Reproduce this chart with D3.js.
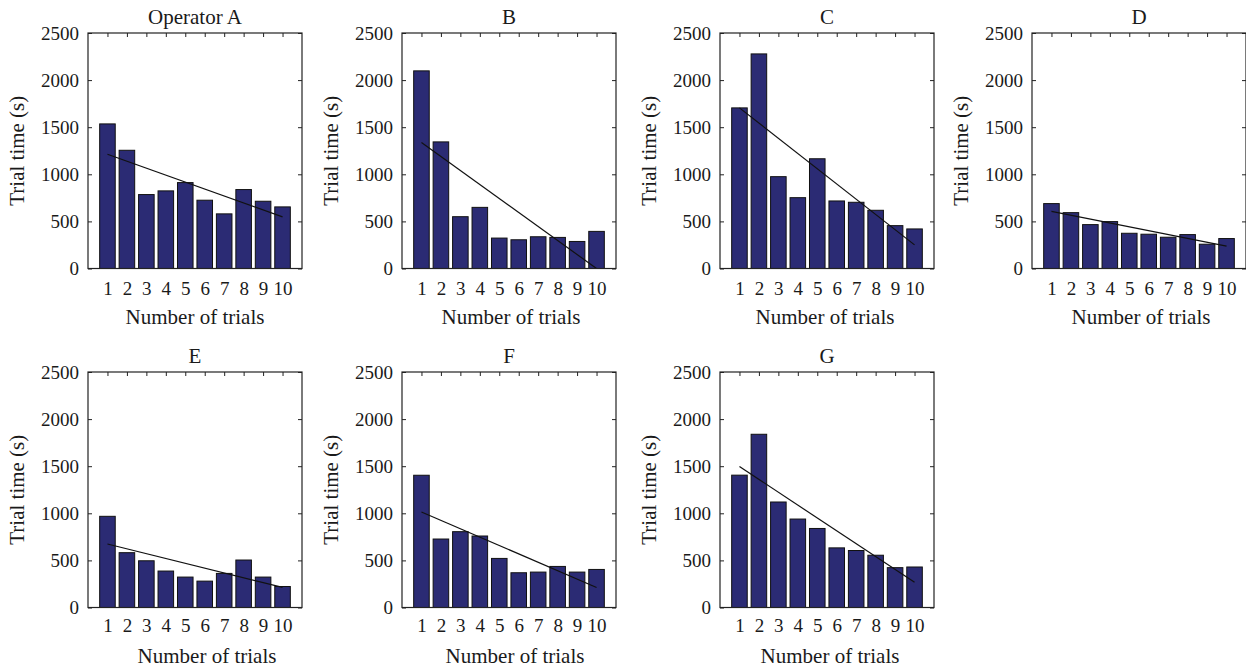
<!DOCTYPE html>
<html>
<head>
<meta charset="utf-8">
<script src="https://cdn.jsdelivr.net/npm/d3@7"></script>
<style>
  html, body { margin: 0; padding: 0; background: #fff; }
  svg { display: block; }
</style>
</head>
<body>
<svg id="chart" width="1246" height="668"></svg>
<script>
// ---- data ----
const panelTitles = ["Operator A", "B", "C", "D", "E", "F", "G"];
const trials = [1, 2, 3, 4, 5, 6, 7, 8, 9, 10];
const yTicks = [0, 500, 1000, 1500, 2000, 2500];

const timesA = [1535, 1255, 785, 824, 912, 725, 580, 838, 714, 654];
const timesB = [2098, 1344, 550, 649, 323, 305, 337, 330, 287, 394];
const timesC = [1705, 2278, 975, 752, 1165, 717, 703, 618, 455, 420];
const timesD = [689, 593, 466, 498, 374, 364, 332, 360, 258, 318];
const timesE = [968, 582, 496, 387, 323, 280, 362, 504, 323, 223];
const timesF = [1404, 727, 805, 759, 521, 369, 376, 436, 376, 404];
const timesG = [1405, 1839, 1120, 939, 839, 633, 605, 555, 423, 430];

// trend line values at trial 1 and trial 10
const trendA = [1213, 548];
const trendB = [1337, 0];
const trendC = [1705, 251];
const trendD = [607, 237];
const trendE = [674, 213];
const trendF = [1014, 213];
const trendG = [1497, 267];

const seriesTimes = [timesA, timesB, timesC, timesD, timesE, timesF, timesG];
const seriesTrend = [trendA, trendB, trendC, trendD, trendE, trendF, trendG];

// ---- layout ----
const FONT = "'Liberation Serif', 'Times New Roman', serif";
const colLeft = [88, 402, 720, 1032];
const rowTop = [33, 372];
const axW = 214, axH = 235.5;
const xLabelDx = [0, 2, -2, 2, 12, 6, 3];
const barColor = "#2b2b74";

const svg = d3.select("#chart");

seriesTimes.forEach((vals, i) => {
  const col = i % 4, row = Math.floor(i / 4);
  const left = colLeft[col], top = rowTop[row];
  const g = svg.append("g").attr("transform", `translate(${left},${top})`);

  const x = d3.scaleLinear().domain([0, 11]).range([0, axW]);
  const y = d3.scaleLinear().domain([0, 2500]).range([axH, 0]);
  const slot = x(1) - x(0);
  const bw = slot * 0.8;

  // axes (drawn beneath the data)
  const tickLen = 4;
  const leftAx = g.append("g").call(d3.axisLeft(y).tickValues(yTicks).tickSize(-tickLen).tickPadding(9).tickFormat(d3.format("d")));
  const rightAx = g.append("g").attr("transform", `translate(${axW},0)`)
    .call(d3.axisRight(y).tickValues(yTicks).tickSize(-tickLen).tickFormat(""));
  const topAx = g.append("g").call(d3.axisTop(x).tickValues(trials).tickSize(-tickLen).tickFormat(""));
  const botAx = g.append("g").attr("transform", `translate(0,${axH})`)
    .call(d3.axisBottom(x).tickValues(trials).tickSize(-tickLen).tickPadding(row === 0 ? 13 : 11).tickFormat(d3.format("d")));

  [leftAx, rightAx, topAx, botAx].forEach(a => {
    a.attr("font-family", null).attr("font-size", null);
    a.selectAll(".domain").remove();
    a.selectAll(".tick line").attr("stroke", "#222").attr("stroke-width", 1);
    a.selectAll("text").style("font-family", FONT).style("font-size", "19px").attr("fill", "#1a1a1a");
  });

  // bars
  g.append("g").selectAll("rect").data(vals).join("rect")
    .attr("x", (d, k) => x(trials[k]) - bw / 2)
    .attr("y", d => y(d))
    .attr("width", bw)
    .attr("height", d => y(0) - y(d))
    .attr("fill", barColor)
    .attr("stroke", "#111")
    .attr("stroke-width", 1);

  // trend line
  const tr = seriesTrend[i];
  g.append("line")
    .attr("x1", x(trials[0])).attr("y1", y(tr[0]))
    .attr("x2", x(trials[trials.length - 1])).attr("y2", y(tr[1]))
    .attr("stroke", "#111").attr("stroke-width", 1.2);

  // box
  g.append("rect").attr("x", 0).attr("y", 0).attr("width", axW).attr("height", axH)
    .attr("fill", "none").attr("stroke", "#222").attr("stroke-width", 1.2);

  // title
  g.append("text").attr("x", axW / 2).attr("y", -9)
    .attr("text-anchor", "middle").style("font-family", FONT).style("font-size", "21px")
    .attr("fill", "#1a1a1a").text(panelTitles[i]);

  // x label
  g.append("text").attr("x", axW / 2 + xLabelDx[i]).attr("y", axH + 55)
    .attr("text-anchor", "middle").style("font-family", FONT).style("font-size", "21px")
    .attr("fill", "#1a1a1a").text("Number of trials");

  // y label
  g.append("text")
    .attr("transform", `translate(-64,${axH / 2}) rotate(-90)`)
    .attr("text-anchor", "middle").style("font-family", FONT).style("font-size", "21px")
    .attr("fill", "#1a1a1a").text("Trial time (s)");
});
</script>
</body>
</html>
